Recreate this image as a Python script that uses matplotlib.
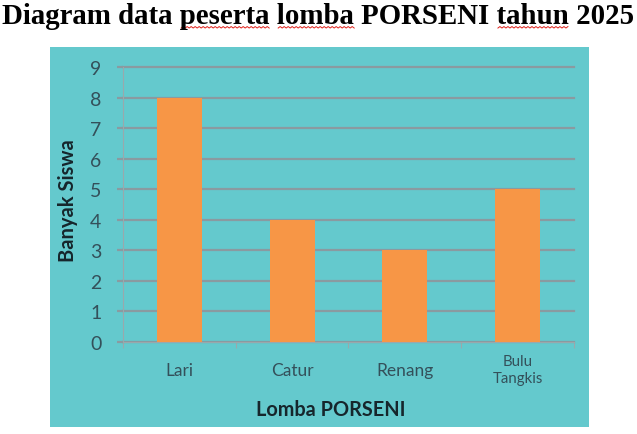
import matplotlib
matplotlib.use("Agg")
import matplotlib.pyplot as plt
from matplotlib.patches import Rectangle
import numpy as np

# data
lomba = ["Lari", "Catur", "Renang", "Bulu\nTangkis"]
jumlah_siswa = [8, 4, 3, 5]
y_ticks = list(range(0, 10))

teal = "#64c9cd"
orange = "#f79646"
grid_col = "#8a9aa0"
tick_col = "#34505a"

fig = plt.figure(figsize=(6.37, 4.35), dpi=100)
fig.patch.set_facecolor("white")

# teal panel behind the chart
panel = Rectangle((50 / 637, 7 / 435), 539 / 637, 380 / 435,
                  transform=fig.transFigure, facecolor=teal, edgecolor="none", zorder=-10)
fig.add_artist(panel)

ax = fig.add_axes([123 / 637, 92 / 435, 451 / 637, 275 / 435])
ax.set_facecolor("none")
ax.set_zorder(1)

x = np.arange(len(lomba))
ax.bar(x, jumlah_siswa, width=0.4, color=orange, zorder=3)

ax.set_xlim(-0.5, len(lomba) - 0.5)
ax.set_ylim(0, 9)
ax.set_yticks(y_ticks)
ax.yaxis.grid(True, color=grid_col, linewidth=1.6)
for gl in ax.get_ygridlines():
    gl.set_clip_on(False)
ax.set_axisbelow(True)

for side in ["top", "right"]:
    ax.spines[side].set_visible(False)
ax.spines["left"].set_color("#9aa8ac")
ax.spines["left"].set_linewidth(0.8)
ax.spines["bottom"].set_color("#9aa8ac")
ax.spines["bottom"].set_linewidth(0.8)

ax.tick_params(axis="y", length=4.5, width=1.6, color=grid_col, pad=11,
               labelsize=14, labelcolor=tick_col)
for lbl in ax.get_yticklabels():
    lbl.set_fontfamily("Lato")

ax.set_xticks(x)
ax.set_xticklabels(lomba)
ax.set_xticks(np.arange(-0.5, len(lomba)), minor=True)
ax.tick_params(axis="x", which="major", length=0, pad=20, labelcolor=tick_col)
ax.tick_params(axis="x", which="minor", length=4, width=0.8, color="#9aa8ac")
for i, lbl in enumerate(ax.get_xticklabels()):
    lbl.set_fontfamily("Lato")
    lbl.set_va("center")
    lbl.set_fontsize(10.8 if "\n" in lomba[i] else 12.5)
    lbl.set_linespacing(1.25)

ax.set_ylabel("Banyak Siswa", fontsize=14.5, fontweight="bold", family="Lato", color="#16262c")
ax.yaxis.set_label_coords(-0.100, 0.516)
ax.set_xlabel("Lomba PORSENI", fontsize=14.3, fontweight="bold", family="Lato", color="#16262c")
ax.xaxis.set_label_coords(0.461, -0.208)

title = "Diagram data peserta lomba PORSENI tahun 2025"
title_kw = dict(fontsize=20.8, fontweight="bold", family="Liberation Serif")
t = fig.text(0.5, 0.993, title, ha="center", va="top", **title_kw)

# red spell-check squiggles under some words
fig.canvas.draw()
renderer = fig.canvas.get_renderer()
bb = t.get_window_extent(renderer)
for word in ["peserta", "lomba", "tahun"]:
    start = title.index(word)
    pre = fig.text(0, 0, title[:start], **title_kw)
    full = fig.text(0, 0, title[:start + len(word)], **title_kw)
    x0 = bb.x0 + pre.get_window_extent(renderer).width + 1
    x1 = bb.x0 + full.get_window_extent(renderer).width
    pre.remove()
    full.remove()
    xs = np.arange(x0, x1, 2.0)
    ys = bb.y0 + 1.0 + np.where(np.arange(len(xs)) % 2 == 0, 0.0, 1.5)
    fig.add_artist(plt.Line2D(xs / 637, ys / 435, transform=fig.transFigure,
                              color="#e0201a", linewidth=0.7))

fig.savefig("out.png", dpi=100)
